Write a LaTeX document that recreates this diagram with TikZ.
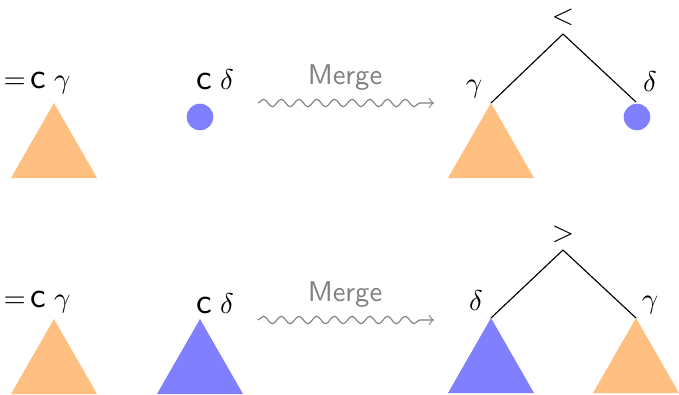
\documentclass[tikz,border=0pt]{standalone}
\usepackage{amsmath}
\usetikzlibrary{decorations.pathmorphing}

\newcommand{\catc}{{\sffamily\fontsize{12.5}{14}\selectfont c}}

\begin{document}
\begin{tikzpicture}[x=0.35pt, y=0.35pt,
  gamtri/.style={fill=orange!50},
  deltri/.style={fill=blue!50},
  deldot/.style={circle, fill=blue!50, inner sep=0pt, minimum size=9.3pt},
  lbl/.style={anchor=base, inner sep=0pt},
  lblw/.style={anchor=base west, inner sep=0pt},
  mergelbl/.style={anchor=base, inner sep=0pt, font=\sffamily, text=black!50},
  mergearr/.style={->, draw=black!50, decorate,
    decoration={snake, amplitude=1.3pt, segment length=6.2pt, post length=1.2mm}},
  branch/.style={thin}
]
  \clip (0,0) rectangle (679,394);

  % first row: merging a head with a dot
  \node[lblw] (lhsA) at (3, 306)  {$=$\,\catc\;$\gamma$};
  \coordinate (gamA) at (54, 291);
  \fill[gamtri] (gamA) -- ++(-43,-75) -- ++(86,0) -- cycle;

  \node[lblw] (rhsA) at (196, 305) {\catc\;$\delta$};
  \node[deldot] (dotA) at (200, 277) {};

  \coordinate (fromA) at (258, 291);
  \coordinate (toA)   at (434, 291);
  \node[mergelbl] (mergeA) at (345, 310) {Merge};
  \draw[mergearr] (fromA) -- (toA);

  \coordinate (rootA)  at (563, 360);
  \coordinate (leftA)  at (491, 291);
  \coordinate (rightA) at (636, 292);
  \node[lbl] (ordA)  at (563, 370) {$<$};
  \node[lbl] (glabA) at (474, 302) {$\gamma$};
  \node[lbl] (dlabA) at (650, 303) {$\delta$};
  \draw[branch] (rootA) -- (leftA);
  \draw[branch] (rootA) -- (rightA);
  \fill[gamtri] (leftA) -- ++(-43,-75) -- ++(86,0) -- cycle;
  \node[deldot] (dotB) at (637, 277) {};

  % second row: merging two heads
  \node[lblw] (lhsB) at (3, 87)  {$=$\,\catc\;$\gamma$};
  \coordinate (gamB) at (54, 75);
  \fill[gamtri] (gamB) -- ++(-43,-75) -- ++(86,0) -- cycle;

  \node[lblw] (rhsB) at (196, 81) {\catc\;$\delta$};
  \coordinate (delB) at (200, 75);
  \fill[deltri] (delB) -- ++(-43,-75) -- ++(86,0) -- cycle;

  \coordinate (fromB) at (258, 74);
  \coordinate (toB)   at (434, 74);
  \node[mergelbl] (mergeB) at (345, 93) {Merge};
  \draw[mergearr] (fromB) -- (toB);

  \coordinate (rootB)  at (563, 144);
  \coordinate (leftB)  at (491, 76);
  \coordinate (rightB) at (636, 76);
  \node[lbl] (ordB)  at (563, 153) {$>$};
  \node[lbl] (dlabB) at (476, 84) {$\delta$};
  \node[lbl] (glabB) at (650, 86) {$\gamma$};
  \draw[branch] (rootB) -- (leftB);
  \draw[branch] (rootB) -- (rightB);
  \fill[deltri] (leftB) -- ++(-43,-75) -- ++(86,0) -- cycle;
  \fill[gamtri] (rightB) -- ++(-43,-75) -- ++(86,0) -- cycle;
\end{tikzpicture}
\end{document}
